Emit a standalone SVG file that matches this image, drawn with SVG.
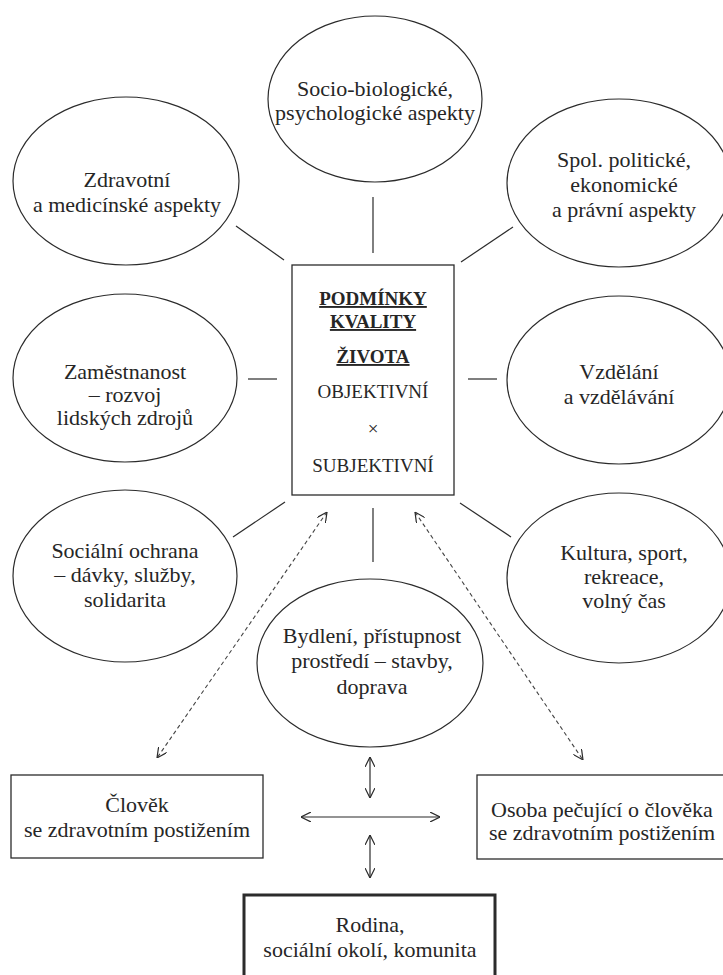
<svg xmlns="http://www.w3.org/2000/svg" width="723" height="975" viewBox="0 0 723 975">
<defs>
<style>
.n ellipse{fill:none;stroke:#2b2b2b;stroke-width:1.2}
.b{fill:none;stroke:#2b2b2b;stroke-width:1.3}
text{font-family:"Liberation Serif","Times New Roman",serif;font-size:22px;fill:#262626;text-anchor:middle}
.c text{font-size:19px}
.u{font-weight:bold;text-decoration:underline}
.ln{stroke:#2b2b2b;stroke-width:1.2;fill:none}
.da{stroke:#444;stroke-width:1.1;stroke-dasharray:4 3;fill:none;marker-start:url(#ah);marker-end:url(#ah)}
.ar{stroke:#2b2b2b;stroke-width:1.2;fill:none;marker-start:url(#ah);marker-end:url(#ah)}
</style>
<marker id="ah" viewBox="0 0 10 10" refX="10" refY="5" markerWidth="10" markerHeight="10" markerUnits="userSpaceOnUse" orient="auto-start-reverse">
<path d="M0,0 L10,5 L0,10" fill="none" stroke="#2b2b2b" stroke-width="1.2"/>
</marker>
</defs>
<rect width="723" height="975" fill="#fff"/>
<g id="connectors">
<line class="ln" x1="236" y1="226" x2="284" y2="260"/>
<line class="ln" x1="373" y1="197" x2="373" y2="253"/>
<line class="ln" x1="461" y1="262" x2="513" y2="227"/>
<line class="ln" x1="248" y1="379" x2="277" y2="379"/>
<line class="ln" x1="468" y1="379" x2="497" y2="379"/>
<line class="ln" x1="233" y1="537" x2="285" y2="502"/>
<line class="ln" x1="373" y1="508" x2="373" y2="562"/>
<line class="ln" x1="460" y1="503" x2="511" y2="537"/>
<line class="da" x1="327" y1="512" x2="157" y2="758"/>
<line class="da" x1="415" y1="512" x2="583" y2="760"/>
<line class="ar" x1="370" y1="757" x2="370" y2="798"/>
<line class="ar" x1="301" y1="817" x2="440" y2="817"/>
<line class="ar" x1="370" y1="835" x2="370" y2="878"/>
</g>
<g id="center" class="c">
<rect class="b" x="292" y="265" width="162" height="230"/>
<text x="373" y="305" class="u">PODMÍNKY </text>
<text x="373" y="328" class="u">KVALITY</text>
<text x="373" y="363" class="u">ŽIVOTA</text>
<text x="373" y="398">OBJEKTIVNÍ</text>
<text x="373" y="435">×</text>
<text x="373" y="472">SUBJEKTIVNÍ</text>
</g>
<g id="zdravotni" class="n">
<ellipse cx="126" cy="181" rx="113" ry="84"/>
<text x="127" y="187">Zdravotní</text>
<text x="127" y="212">a medicínské aspekty</text>
</g>
<g id="socio" class="n">
<ellipse cx="375" cy="99" rx="107" ry="83"/>
<text x="375" y="96">Socio-biologické,</text>
<text x="375" y="120">psychologické aspekty</text>
</g>
<g id="spol" class="n">
<ellipse cx="619" cy="183" rx="112" ry="84"/>
<text x="624" y="167">Spol. politické,</text>
<text x="624" y="192">ekonomické</text>
<text x="624" y="217">a právní aspekty</text>
</g>
<g id="zamestnanost" class="n">
<ellipse cx="125" cy="378" rx="112" ry="84"/>
<text x="125" y="379">Zaměstnanost</text>
<text x="125" y="402">– rozvoj</text>
<text x="125" y="425">lidských zdrojů</text>
</g>
<g id="vzdelani" class="n">
<ellipse cx="619" cy="380" rx="112" ry="84"/>
<text x="619" y="379">Vzdělání</text>
<text x="619" y="404">a vzdělávání</text>
</g>
<g id="socialni" class="n">
<ellipse cx="125" cy="576" rx="112" ry="86"/>
<text x="125" y="558">Sociální ochrana</text>
<text x="125" y="582">– dávky, služby,</text>
<text x="125" y="607">solidarita</text>
</g>
<g id="kultura" class="n">
<ellipse cx="619" cy="578" rx="112" ry="85"/>
<text x="624" y="560">Kultura, sport,</text>
<text x="624" y="584">rekreace,</text>
<text x="624" y="608">volný čas</text>
</g>
<g id="bydleni" class="n">
<ellipse cx="370" cy="663" rx="113" ry="84"/>
<text x="372" y="643">Bydlení, přístupnost</text>
<text x="372" y="668">prostředí – stavby,</text>
<text x="372" y="694">doprava</text>
</g>
<g id="clovek">
<rect class="b" x="11" y="775" width="252" height="83"/>
<text x="137" y="812">Člověk</text>
<text x="137" y="837">se zdravotním postižením</text>
</g>
<g id="osoba">
<rect class="b" x="477" y="775" width="256" height="84"/>
<text x="602" y="817">Osoba pečující o člověka</text>
<text x="602" y="840">se zdravotním postižením</text>
</g>
<g id="rodina">
<rect x="244" y="895" width="251" height="100" fill="none" stroke="#2b2b2b" stroke-width="3"/>
<text x="370" y="932">Rodina,</text>
<text x="370" y="957">sociální okolí, komunita</text>
</g>
</svg>
